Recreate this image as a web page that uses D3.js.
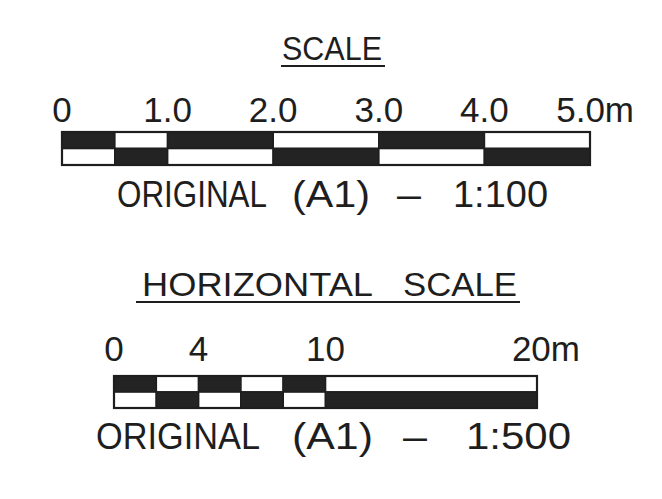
<!DOCTYPE html>
<html>
<head>
<meta charset="utf-8">
<script src="https://cdn.jsdelivr.net/npm/d3@7"></script>
<style>
  html, body { margin: 0; padding: 0; background: #ffffff; }
  svg { display: block; }
  text { font-family: "Liberation Sans", Arial, sans-serif; fill: #1e1e1e; }
</style>
</head>
<body>
<svg id="chart" width="662" height="499"></svg>
<script>
// ---- data ----
const title1 = ["SCALE"];
const breaks1 = [0, 0.5, 1, 2, 3, 4, 5];           // metres, segment boundaries
const topDark1 = [true, false, true, false, true, false];
const ticks1 = [0, 1, 2, 3, 4, 5];
const tickLabels1 = ["0", "1.0", "2.0", "3.0", "4.0", "5.0m"];
const caption1 = ["ORIGINAL", "(A1)", "–", "1:100"];

const title2 = ["HORIZONTAL", "SCALE"];
const breaks2 = [0, 2, 4, 6, 8, 10, 20];
const topDark2 = [true, false, true, false, true, false];
const ticks2 = [0, 4, 10, 20];
const tickLabels2 = ["0", "4", "10", "20m"];
const caption2 = ["ORIGINAL", "(A1)", "–", "1:500"];

// ---- layout ----
const svg = d3.select("#chart");
const ink = "#1e1e1e";

function drawScale(cfg) {
  const x = d3.scaleLinear().domain(cfg.domain).range(cfg.range);
  const g = svg.append("g");

  // title words + underline
  cfg.title.forEach((t, i) => {
    g.append("text")
      .attr("x", cfg.titleX[i][0]).attr("y", cfg.titleY)
      .attr("font-size", cfg.titleSize)
      .attr("textLength", cfg.titleX[i][1] - cfg.titleX[i][0])
      .attr("lengthAdjust", "spacingAndGlyphs")
      .text(t);
  });
  g.append("line")
    .attr("x1", cfg.ulX[0]).attr("x2", cfg.ulX[1])
    .attr("y1", cfg.ulY).attr("y2", cfg.ulY)
    .attr("stroke", ink).attr("stroke-width", 2.2);

  // tick labels
  const last = cfg.ticks.length - 1;
  g.selectAll("text.tick").data(cfg.ticks).join("text")
    .attr("class", "tick")
    .attr("x", (d, i) => i === last ? x(d) + cfg.lastOffset : x(d))
    .attr("y", cfg.tickY)
    .attr("font-size", cfg.tickSize)
    .attr("text-anchor", (d, i) => i === last ? "end" : "middle")
    .text((d, i) => cfg.tickLabels[i]);

  // bar segments (two rows, alternating)
  const segs = d3.pairs(cfg.breaks).map((p, i) => ({ a: p[0], b: p[1], topDark: cfg.topDark[i] }));
  const h = (cfg.barY[1] - cfg.barY[0]) / 2;
  ["top", "bottom"].forEach((row, r) => {
    g.selectAll("rect." + row).data(segs).join("rect")
      .attr("class", row)
      .attr("x", d => x(d.a)).attr("width", d => x(d.b) - x(d.a))
      .attr("y", cfg.barY[0] + r * h).attr("height", h)
      .attr("fill", d => ((r === 0) === d.topDark) ? "#232323" : "#ffffff")
      .attr("stroke", ink).attr("stroke-width", 1.6);
  });
  g.append("rect")
    .attr("x", x(cfg.domain[0])).attr("width", x(cfg.domain[1]) - x(cfg.domain[0]))
    .attr("y", cfg.barY[0]).attr("height", cfg.barY[1] - cfg.barY[0])
    .attr("fill", "none").attr("stroke", ink).attr("stroke-width", 2.2);

  // caption pieces
  cfg.caption.forEach((t, i) => {
    g.append("text")
      .attr("x", cfg.capX[i][0]).attr("y", cfg.capY)
      .attr("font-size", cfg.capSize)
      .attr("textLength", cfg.capX[i][1] - cfg.capX[i][0])
      .attr("lengthAdjust", "spacingAndGlyphs")
      .text(t);
  });
}

drawScale({
  title: title1, titleX: [[282, 382]], titleY: 60, titleSize: 34,
  ulX: [281, 385], ulY: 66,
  domain: [0, 5], range: [62, 590],
  breaks: breaks1, topDark: topDark1,
  ticks: ticks1, tickLabels: tickLabels1, tickY: 122, tickSize: 35, lastOffset: 44,
  barY: [132, 165],
  caption: caption1,
  capX: [[117, 267], [292, 370], [397, 421], [453, 548]],
  capY: 207, capSize: 36
});

drawScale({
  title: title2, titleX: [[142, 373], [403, 517]], titleY: 296, titleSize: 34,
  ulX: [136, 520], ulY: 302,
  domain: [0, 20], range: [114, 537],
  breaks: breaks2, topDark: topDark2,
  ticks: ticks2, tickLabels: tickLabels2, tickY: 361, tickSize: 35, lastOffset: 43,
  barY: [376, 408],
  caption: caption2,
  capX: [[96, 260], [292, 373], [403, 427], [466, 571]],
  capY: 449, capSize: 36
});
</script>
</body>
</html>
